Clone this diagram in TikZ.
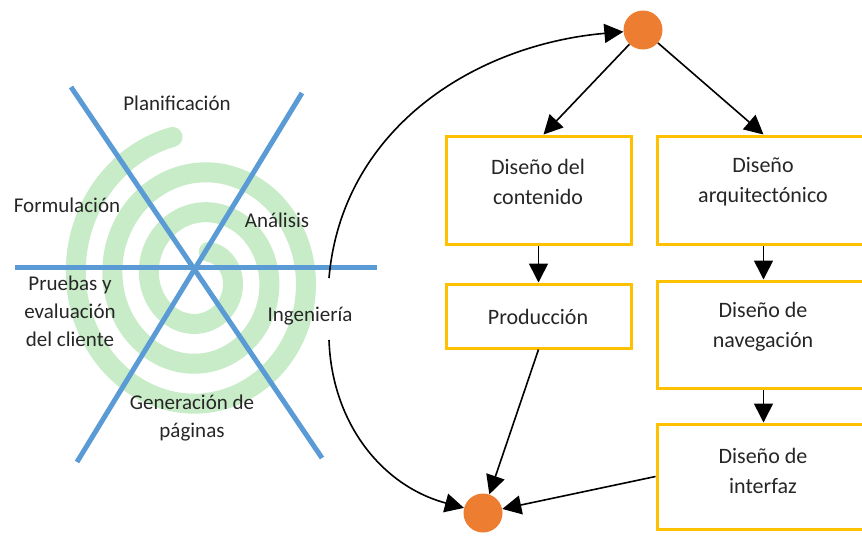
\documentclass[tikz,border=0pt]{standalone}
\usepackage{fontspec}
\setmainfont{Carlito}
\usetikzlibrary{arrows.meta}
\definecolor{spiralgreen}{RGB}{200,236,200}
\definecolor{axisblue}{RGB}{91,155,213}
\definecolor{boxgold}{RGB}{255,192,0}
\definecolor{dotorange}{RGB}{237,125,49}
\definecolor{txt}{RGB}{38,38,38}
\begin{document}
\begin{tikzpicture}[x=1pt,y=-1pt,
  lbl/.style={font=\fontsize{21}{28}\selectfont, align=center, text=txt, inner sep=0pt},
  boxlbl/.style={font=\fontsize{22}{30}\selectfont, align=center, text=txt, inner sep=0pt},
  stepbox/.style={draw=boxgold, line width=3pt, fill=white, inner sep=0pt},
  dot/.style={circle, fill=dotorange, minimum size=39pt, inner sep=0pt},
  arr/.style={line width=1.6pt, draw=black, -{Triangle[length=19pt,width=19pt]}},
  axis/.style={draw=axisblue, line width=5pt},
  spiralband/.style={draw=spiralgreen, line width=20pt, line cap=round}]
\useasboundingbox (0,0) rectangle (862,536);
\clip (0,0) rectangle (862,536);

% spiral
\draw[spiralband] plot[variable=\t, domain=102:1150, samples=400, smooth]
  ({200 + 0.916*(145.5-(\t-90)/9)*cos(\t)}, {278 - (145.5-(\t-90)/9)*sin(\t)});

% axes
\draw[axis] (15,267) -- (377,267);
\draw[axis] (71,87) -- (322,458);
\draw[axis] (302,93) -- (77,462);

% spiral labels
\node[lbl] (planif) at (177,103) {Planificación};
\node[lbl] (formul) at (67,205) {Formulación};
\node[lbl] (anal) at (277,220) {Análisis};
\node[lbl] (prueb) at (70,311) {Pruebas y\\evaluación\\del cliente};
\node[lbl] (ingen) at (310,316) {Ingeniería};
\node[lbl] (gener) at (192,418) {Generación de\\páginas};

% boxes
\node[stepbox, minimum width=185pt, minimum height=108pt] (b1) at (538.5,190) {};
\node[stepbox, minimum width=185pt, minimum height=64pt] (b3) at (538.5,316) {};
\node[stepbox, minimum width=213pt, minimum height=108pt] (b2) at (763.5,190) {};
\node[stepbox, minimum width=213pt, minimum height=107pt] (b4) at (763.5,334.5) {};
\node[stepbox, minimum width=213pt, minimum height=105pt] (b5) at (763.5,476.5) {};

\node[boxlbl] (t1) at (538,182) {Diseño del\\contenido};
\node[boxlbl] (t2) at (763,182) {Diseño\\arquitectónico};
\node[boxlbl] (t3) at (538,317) {Producción};
\node[boxlbl] (t4) at (763,327) {Diseño de\\navegación};
\node[boxlbl] (t5) at (763,471) {Diseño de\\interfaz};

% dots
\node[dot] (c1) at (643,30) {};
\node[dot] (c2) at (483,513) {};

% connectors
\draw[arr] (c1) -- ([xshift=5pt]b1.north);
\draw[arr] (c1) -- (b2.north);
\draw[arr] (b1.south) -- (b3.north);
\draw[arr] (b2.south) -- (b4.north);
\draw[arr] (b4.south) -- (b5.north);
\draw[arr] (b3.south) -- (c2);
\draw[arr] (b5.west) -- (c2);

\coordinate (s1) at (329,278);
\coordinate (s2) at (329,340);
\draw[arr] (s1) to[out=85,in=185] (c1);
\draw[arr] (s2) to[out=-88,in=165] (c2);
\end{tikzpicture}
\end{document}
